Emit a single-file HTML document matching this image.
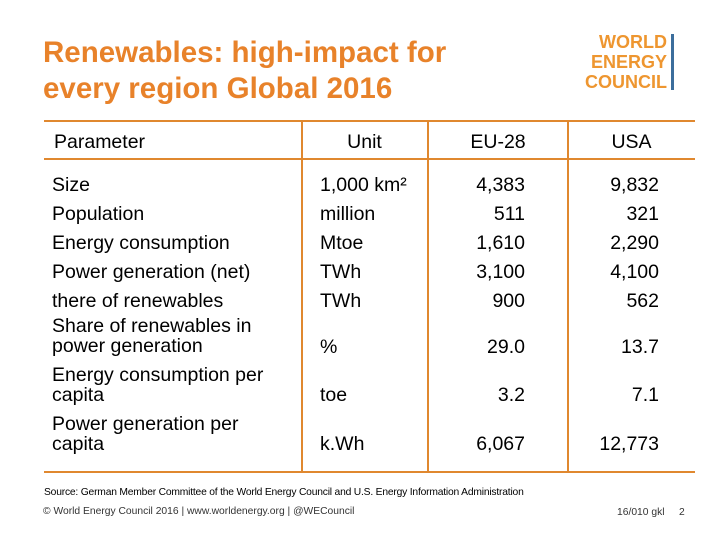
<!DOCTYPE html>
<html><head><meta charset="utf-8"><style>
body{margin:0;width:720px;height:540px;background:#fff;position:relative;overflow:hidden;font-family:"Liberation Sans",sans-serif;color:#000}
.a{position:absolute;white-space:nowrap}
.t{font-size:19.5px;line-height:20px}
.r{text-align:right}
.hl{position:absolute;height:2px;background:#E0882F;left:44px;width:651px}
.vl{position:absolute;width:2px;background:#E0882F;top:121px;height:352px}
</style></head><body>
<div class="a" style="left:43px;top:35px;font-size:29.5px;line-height:36px;font-weight:bold;color:#E8822A">Renewables: high-impact for<br>every region Global 2016</div>
<div class="a" style="left:575px;top:32px;font-size:18px;line-height:20px;font-weight:bold;color:#EE9630;text-align:right;width:92px">WORLD<br>ENERGY<br>COUNCIL</div>
<div class="a" style="left:671px;top:34px;width:3px;height:56px;background:#3C6E9C"></div>

<div class="hl" style="top:120px"></div>
<div class="hl" style="top:158px"></div>
<div class="hl" style="top:471px"></div>
<div class="vl" style="left:301px"></div>
<div class="vl" style="left:427px"></div>
<div class="vl" style="left:567px"></div>

<div class="a t" style="left:54px;top:132px">Parameter</div>
<div class="a t" style="left:302px;width:125px;text-align:center;top:132px">Unit</div>
<div class="a t" style="left:428px;width:140px;text-align:center;top:132px">EU-28</div>
<div class="a t" style="left:568px;width:127px;text-align:center;top:132px">USA</div>

<div class="a t" style="left:52px;top:171px;line-height:29px">Size<br>Population<br>Energy consumption<br>Power generation (net)<br>there of renewables</div>
<div class="a t" style="left:52px;top:316px">Share of renewables in<br>power generation</div>
<div class="a t" style="left:52px;top:365px">Energy consumption per<br>capita</div>
<div class="a t" style="left:52px;top:414px">Power generation per<br>capita</div>

<div class="a t" style="left:320px;top:171px;line-height:29px">1,000 km²<br>million<br>Mtoe<br>TWh<br>TWh</div>
<div class="a t" style="left:320px;top:337px">%</div>
<div class="a t" style="left:320px;top:385px">toe</div>
<div class="a t" style="left:320px;top:434px">k.Wh</div>

<div class="a t r" style="left:424px;width:101px;top:171px;line-height:29px">4,383<br>511<br>1,610<br>3,100<br>900</div>
<div class="a t r" style="left:424px;width:101px;top:337px">29.0</div>
<div class="a t r" style="left:424px;width:101px;top:385px">3.2</div>
<div class="a t r" style="left:424px;width:101px;top:434px">6,067</div>

<div class="a t r" style="left:558px;width:101px;top:171px;line-height:29px">9,832<br>321<br>2,290<br>4,100<br>562</div>
<div class="a t r" style="left:558px;width:101px;top:337px">13.7</div>
<div class="a t r" style="left:558px;width:101px;top:385px">7.1</div>
<div class="a t r" style="left:558px;width:101px;top:434px">12,773</div>

<div class="a" style="left:44px;top:487px;font-size:10.3px;letter-spacing:-0.2px">Source: German Member Committee of the World Energy Council and U.S. Energy Information Administration</div>
<div class="a" style="left:43px;top:506px;font-size:10.3px;color:#333">© World Energy Council 2016 | www.worldenergy.org | @WECouncil</div>
<div class="a" style="left:617px;top:507px;font-size:10.3px;color:#333">16/010 gkl</div>
<div class="a" style="left:679px;top:507px;font-size:10.3px;color:#333">2</div>
</body></html>
